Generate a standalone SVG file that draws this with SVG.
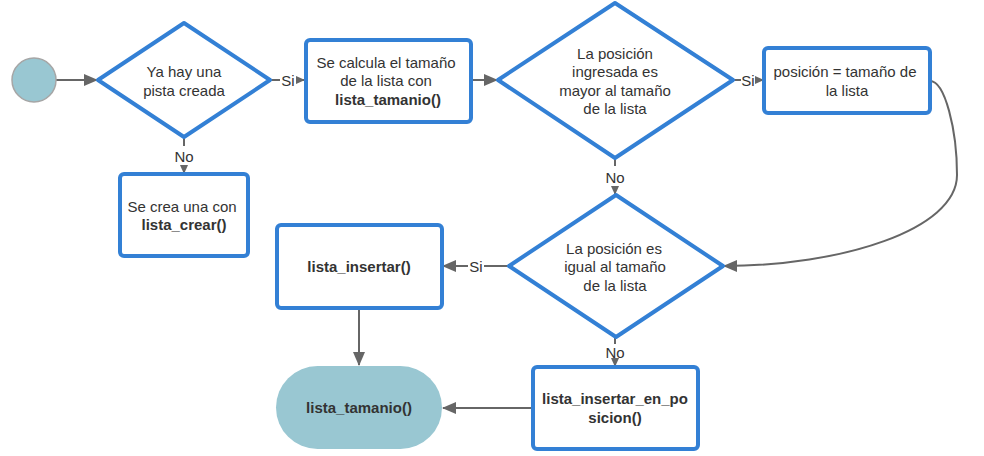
<svg xmlns="http://www.w3.org/2000/svg" width="984" height="456" viewBox="0 0 984 456">
<defs>
<marker id="big" markerWidth="14" markerHeight="12" refX="13" refY="6" orient="auto" markerUnits="userSpaceOnUse"><path d="M0,0 L14,6 L0,12 Z" fill="#666"/></marker>
<marker id="small" markerWidth="9" markerHeight="8" refX="9" refY="4" orient="auto" markerUnits="userSpaceOnUse"><path d="M0,0 L9,4 L0,8 Z" fill="#666"/></marker>
</defs>
<style>
.n{fill:#fff;stroke:#3380d5;stroke-width:4;stroke-linejoin:round}
.t{font-family:"Liberation Sans",Arial,sans-serif;font-size:15px;fill:#333;text-anchor:middle}
.b{font-weight:bold}
.c{fill:none;stroke:#666;stroke-width:2}
.l{font-family:"Liberation Sans",Arial,sans-serif;font-size:15px;fill:#333;text-anchor:middle}
</style>
<rect width="984" height="456" fill="#fff"/>
<g id="connectors">
<path class="c" d="M56,80 L97,80" marker-end="url(#big)"/>
<path class="c" d="M270,80 L280,80"/>
<text class="l" x="288" y="86">Si</text>
<path class="c" d="M296,80 L305,80" marker-end="url(#small)"/>
<path class="c" d="M184,137 L184,146"/>
<text class="l" x="184" y="162">No</text>
<path class="c" d="M184,166 L184,174" marker-end="url(#small)"/>
<path class="c" d="M471,80 L497,80" marker-end="url(#big)"/>
<path class="c" d="M733,80 L741,80"/>
<text class="l" x="748" y="86">Si</text>
<path class="c" d="M756,80 L764,80" marker-end="url(#small)"/>
<path class="c" d="M615,158 L615,166"/>
<text class="l" x="615" y="183">No</text>
<path class="c" d="M615,187 L615,195" marker-end="url(#small)"/>
<path class="c" d="M930,81 C945,81 957,130 957,175 C957,230 840,266 724,266" marker-end="url(#big)"/>
<path class="c" d="M509,266 L484,266"/>
<text class="l" x="476" y="272">Si</text>
<path class="c" d="M468,266 L443,266" marker-end="url(#big)"/>
<path class="c" d="M615,337 L615,344"/>
<text class="l" x="615" y="358">No</text>
<path class="c" d="M615,361 L615,367" marker-end="url(#small)"/>
<path class="c" d="M359,308 L359,365" marker-end="url(#big)"/>
<path class="c" d="M533,408 L443,408" marker-end="url(#big)"/>
</g>
<g id="start"><circle cx="34" cy="80" r="22" fill="#99c7d2" stroke="#a6a6a6" stroke-width="1.5"/></g>
<g id="d1"><polygon class="n" points="184,23 270,80 184,137 98,80"/>
<text class="t" x="184" y="77">Ya hay una</text><text class="t" x="184" y="96">pista creada</text></g>
<g id="r_calc"><rect class="n" x="306" y="40" width="165" height="82" rx="4"/>
<text class="t" x="386" y="68">Se calcula el tamaño</text><text class="t" x="386" y="86">de la lista con</text><text class="t b" x="388" y="105">lista_tamanio()</text></g>
<g id="r_crear"><rect class="n" x="120" y="174" width="128" height="82" rx="4"/>
<text class="t" x="182" y="212">Se crea una con</text><text class="t b" x="184" y="230">lista_crear()</text></g>
<g id="d2"><polygon class="n" points="615,3 733,80 615,158 498,80"/>
<text class="t" x="615" y="59">La posición</text><text class="t" x="615" y="77">ingresada es</text><text class="t" x="615" y="96">mayor al tamaño</text><text class="t" x="615" y="114">de la lista</text></g>
<g id="r_pos"><rect class="n" x="764" y="48" width="166" height="65" rx="4"/>
<text class="t" x="845" y="77">posición = tamaño de</text><text class="t" x="847" y="96">la lista</text></g>
<g id="d3"><polygon class="n" points="616,195 723,266 616,337 509,266"/>
<text class="t" x="614" y="254">La posición es</text><text class="t" x="615" y="272">igual al tamaño</text><text class="t" x="615" y="291">de la lista</text></g>
<g id="r_ins"><rect class="n" x="277" y="225" width="165" height="83" rx="4"/>
<text class="t b" x="359" y="272">lista_insertar()</text></g>
<g id="end"><rect x="276" y="366" width="166" height="83" rx="41.5" fill="#99c7d2"/>
<text class="t b" x="359" y="413">lista_tamanio()</text></g>
<g id="r_inspos"><rect class="n" x="533" y="367" width="165" height="82" rx="4"/>
<text class="t b" x="615" y="404">lista_insertar_en_po</text><text class="t b" x="615" y="423">sicion()</text></g>
</svg>
